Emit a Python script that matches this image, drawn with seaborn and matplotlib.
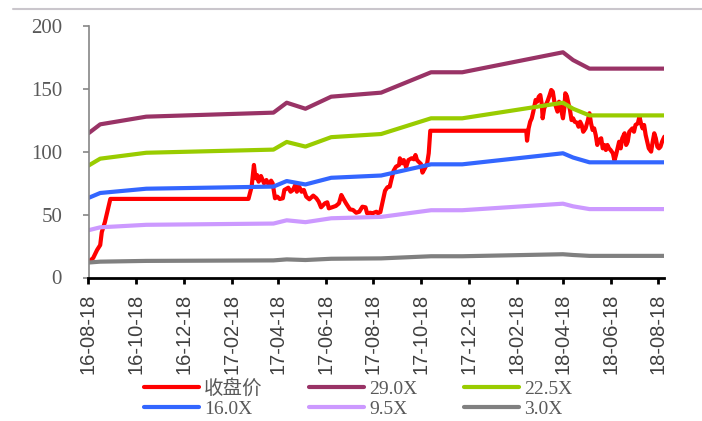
import pandas as pd
import matplotlib
matplotlib.use("Agg")
import matplotlib.pyplot as plt
import seaborn as sns
from matplotlib.lines import Line2D

# Day 0 of the series
start = pd.Timestamp("2016-08-18")

# Daily closing price (day offset from start, value)
price_day = [0, 6, 11, 15, 17, 21, 24, 28, 205, 209, 212, 214, 216, 218, 221, 225,
             228, 231, 234, 236, 239, 242, 245, 249, 251, 256, 259, 262, 265, 267,
             270, 273, 276, 279, 283, 288, 292, 295, 298, 303, 306, 308, 312, 317,
             321, 324, 327, 330, 335, 339, 343, 347, 351, 355, 357, 361, 364, 369,
             371, 374, 377, 380, 383, 386, 388, 391, 394, 398, 399, 402, 404, 407,
             410, 414, 417, 419, 421, 423, 426, 428, 431, 434, 436, 438, 561, 562,
             564, 566, 568, 570, 573, 575, 577, 579, 581, 582, 584, 586, 588, 591,
             593, 595, 597, 599, 601, 603, 605, 608, 610, 611, 613, 615, 617, 619,
             621, 623, 626, 628, 630, 632, 634, 637, 640, 642, 644, 646, 648, 650,
             652, 654, 657, 659, 661, 663, 665, 667, 669, 672, 674, 676, 678, 680,
             682, 684, 687, 689, 691, 693, 695, 697, 699, 701, 704, 706, 708, 710,
             712, 714, 716, 718, 721, 723, 725, 727, 729, 731, 733, 735, 738]
price_close = [12.3, 15.5, 21.9, 25.8, 36.0, 44.0, 52.0, 62.5, 62.5, 72.0, 89.5, 78.9,
               81.5, 76.2, 80.7, 74.9, 77.5, 73.6, 77.0, 74.9, 63.0, 64.3, 62.4, 63.0,
               69.6, 71.4, 68.2, 69.6, 73.6, 68.2, 72.2, 68.2, 69.6, 64.3, 62.2, 65.1,
               63.0, 60.3, 55.8, 59.0, 59.8, 55.0, 55.8, 56.9, 59.0, 65.6, 62.2, 59.0,
               54.2, 53.7, 51.5, 52.3, 56.3, 55.8, 51.1, 51.5, 51.1, 52.3, 51.1, 52.0,
               60.3, 69.0, 71.7, 72.2, 77.5, 84.9, 88.1, 89.5, 94.8, 90.8, 93.4, 87.6,
               93.4, 94.8, 94.0, 97.4, 93.4, 92.1, 90.3, 83.4, 86.8, 90.8, 98.8, 116.7,
               116.7, 108.8, 118.6, 123.9, 126.6, 131.9, 141.2, 139.8, 143.8, 145.1,
               137.2, 126.6, 134.6, 137.2, 139.8, 145.1, 149.1, 147.8, 139.8, 135.8,
               131.9, 139.8, 135.8, 126.6, 135.8, 146.5, 144.3, 138.5, 133.2, 125.2,
               126.6, 123.9, 123.1, 119.9, 123.9, 121.3, 115.9, 118.6, 125.2, 130.6,
               122.6, 117.3, 118.6, 113.3, 105.4, 109.3, 110.7, 102.7, 105.4, 101.4,
               105.4, 102.7, 101.4, 98.8, 93.0, 97.4, 102.7, 108.0, 102.7, 110.7, 114.7,
               105.4, 108.0, 115.9, 117.3, 118.6, 115.9, 121.3, 122.6, 127.9, 122.6,
               118.6, 121.3, 113.3, 108.0, 102.7, 100.1, 108.0, 114.7, 110.7, 104.0,
               102.7, 104.0, 108.0, 112.0]

# PE band lines, changing at report dates
band_day = [0, 15, 74, 237, 254, 278, 311, 375, 439, 479, 608, 621, 642, 738]
pe_29_0 = [114.7, 121.8, 127.9, 131.1, 139.0, 134.2, 143.8, 147.0, 163.2, 163.2, 179.1, 172.9, 166.1, 166.1]
pe_22_5 = [89.0, 94.5, 99.2, 101.7, 107.8, 104.1, 111.6, 114.1, 126.6, 126.6, 139.0, 134.2, 128.9, 128.9]
pe_16_0 = [63.3, 67.2, 70.6, 72.3, 76.7, 74.0, 79.3, 81.1, 90.0, 90.0, 98.8, 95.4, 91.6, 91.6]
pe_9_5 = [37.6, 39.9, 41.9, 42.9, 45.5, 44.0, 47.1, 48.2, 53.5, 53.5, 58.7, 56.6, 54.4, 54.4]
pe_3_0 = [11.9, 12.6, 13.2, 13.6, 14.4, 13.9, 14.9, 15.2, 16.9, 16.9, 18.5, 17.9, 17.2, 17.2]

series_names = ["收盘价", "29.0X", "22.5X", "16.0X", "9.5X", "3.0X"]
series_colors = ["#FF0000", "#993366", "#99CC00", "#3366FF", "#CC99FF", "#808080"]

tick_labels = ["16-08-18", "16-10-18", "16-12-18", "17-02-18", "17-04-18", "17-06-18",
               "17-08-18", "17-10-18", "17-12-18", "18-02-18", "18-04-18", "18-06-18",
               "18-08-18"]
y_ticks = [0, 50, 100, 150, 200]

sns.set_style("ticks")
plt.rcParams["font.family"] = ["Liberation Serif", "Noto Sans CJK SC"]

fig = plt.figure(figsize=(7.02, 4.21), dpi=100)
ax = fig.add_axes([88.5 / 702, 143.5 / 421, (664 - 88.5) / 702, (277.5 - 26) / 421])

data = [(price_day, price_close), (band_day, pe_29_0), (band_day, pe_22_5),
        (band_day, pe_16_0), (band_day, pe_9_5), (band_day, pe_3_0)]
handles = []
for (days, vals), name, color in zip(data, series_names, series_colors):
    df = pd.DataFrame({"date": start + pd.to_timedelta(days, unit="D"), "value": vals})
    sns.lineplot(data=df, x="date", y="value", ax=ax, color=color, linewidth=3,
                 estimator=None, sort=False, legend=False,
                 solid_joinstyle="round", solid_capstyle="round")
    handles.append(Line2D([], [], color=color, linewidth=3, solid_capstyle="round"))

ax.set_xlim(start, start + pd.Timedelta(days=737.5))
ax.set_ylim(0, 200)
ax.set_yticks(y_ticks)
ax.set_xticks(pd.to_datetime(tick_labels, format="%y-%m-%d"))
ax.set_xticklabels(tick_labels, rotation=90, family="Liberation Sans")
ax.set_xlabel("")
ax.set_ylabel("")

for side in ("top", "right"):
    ax.spines[side].set_visible(False)
ax.spines["left"].set_color("#868686")
ax.spines["left"].set_linewidth(1.2)
ax.spines["bottom"].set_color("black")
ax.spines["bottom"].set_linewidth(2)

ax.tick_params(axis="y", direction="out", length=4, width=1.2, color="#868686",
               pad=15, labelsize=15, labelcolor="#595959")
ax.tick_params(axis="x", direction="out", length=4.5, width=2, color="black",
               pad=7, labelsize=14.5, labelcolor="#404040")

# Legend entries are placed column by column
order = [0, 3, 1, 4, 2, 5]
leg = fig.legend([handles[i] for i in order], [series_names[i] for i in order],
                 ncol=3, loc="center left", bbox_to_anchor=(144 / 702, (421 - 398.5) / 421),
                 frameon=False, fontsize=14, handlelength=2.83, handletextpad=0.26,
                 columnspacing=2.4, labelspacing=0.1, borderpad=0, borderaxespad=0)
for t in leg.get_texts():
    t.set_color("#595959")

# Thin rule along the top of the figure
fig.add_artist(Line2D([13 / 702, 1.0], [1 - 9 / 421, 1 - 9 / 421], transform=fig.transFigure,
                      color="#CAC6CC", linewidth=1.5))

fig.savefig("out.png", dpi=100)
